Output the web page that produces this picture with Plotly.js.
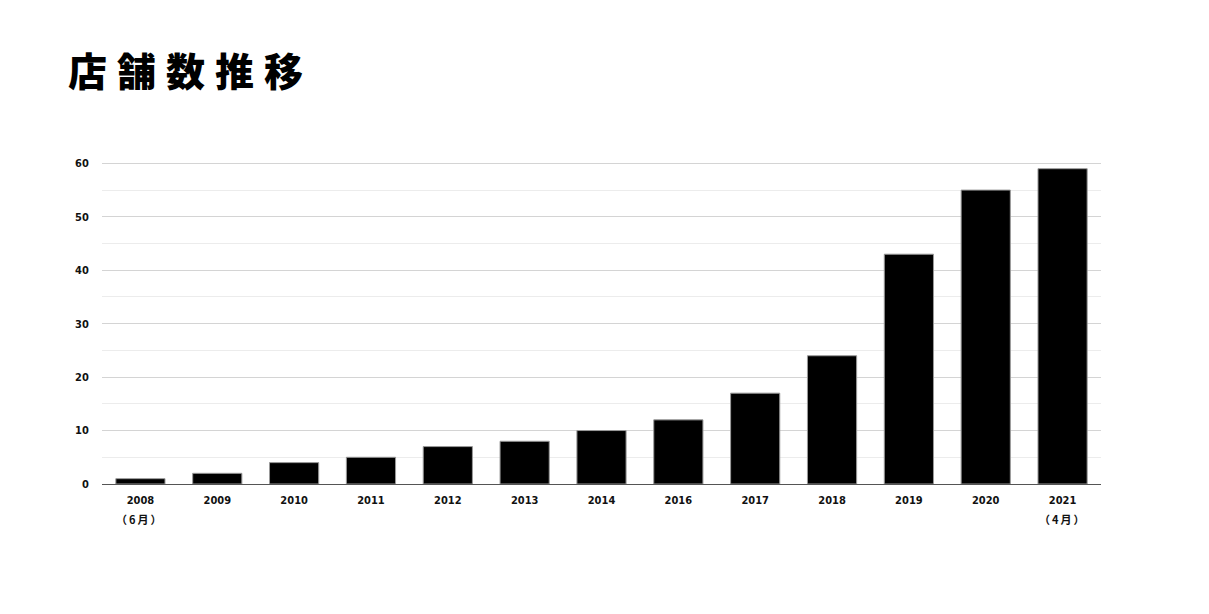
<!DOCTYPE html>
<html>
<head>
<meta charset="utf-8">
<script src="https://cdn.plot.ly/plotly-3.0.1.min.js"></script>
<style>
html,body{margin:0;padding:0;background:#fff;}
#chart{width:1209px;height:614px;}
.gtitle{letter-spacing:10px;}
.annotation-text{letter-spacing:2px;}
</style>
</head>
<body>
<div id="chart"></div>
<script>
const years = ["2008","2009","2010","2011","2012","2013","2014","2016","2017","2018","2019","2020","2021"];
const stores = [1, 2, 4, 5, 7, 8, 10, 12, 17, 24, 43, 55, 59];
const subLabels = {"2008": "（6月）", "2021": "（4月）"};
const yTicks = [0, 10, 20, 30, 40, 50, 60];

const tickFont = {family: "'DejaVu Sans Condensed', 'Liberation Sans Narrow', 'Noto Sans CJK JP', sans-serif", size: 11, color: "#111", weight: "bold"};

const trace = {
  type: "bar",
  x: years,
  y: stores,
  marker: {color: "#000", line: {color: "#9a9a9a", width: 1}},
  hoverinfo: "x+y"
};

const annotations = Object.keys(subLabels).map(k => ({
  x: years.indexOf(k), xref: "x", y: 0, yref: "paper",
  yanchor: "middle", yshift: -35,
  text: subLabels[k], showarrow: false,
  font: {family: "'Noto Sans CJK JP', sans-serif", size: 11, color: "#111", weight: "bold"}
}));

const layout = {
  width: 1209, height: 614,
  margin: {l: 102, r: 108, t: 158, b: 130},
  paper_bgcolor: "#fff", plot_bgcolor: "#fff",
  title: {
    text: "店舗数推移",
    x: 68/1209, xanchor: "left", xref: "container",
    y: 1 - 72/614, yanchor: "middle", yref: "container",
    font: {family: "'Noto Sans CJK JP', sans-serif", size: 39, color: "#000", weight: "900"}
  },
  bargap: 0.36,
  showlegend: false,
  xaxis: {
    type: "category",
    range: [-0.5, years.length - 0.5],
    tickfont: tickFont,
    showline: true, linecolor: "#555", linewidth: 1,
    ticks: "outside", ticklen: 6, tickcolor: "rgba(0,0,0,0)",
    showgrid: false, fixedrange: true
  },
  yaxis: {
    range: [0, 61],
    tickvals: yTicks,
    tickfont: tickFont,
    ticks: "outside", ticklen: 10, tickcolor: "rgba(0,0,0,0)",
    showgrid: true, gridcolor: "#d4d4d4", gridwidth: 1,
    minor: {tickvals: [5, 15, 25, 35, 45, 55], showgrid: true, gridcolor: "#ececec", gridwidth: 1},
    zeroline: false, showline: false, fixedrange: true
  },
  annotations: annotations
};

Plotly.newPlot("chart", [trace], layout, {displayModeBar: false, staticPlot: true});
</script>
</body>
</html>
